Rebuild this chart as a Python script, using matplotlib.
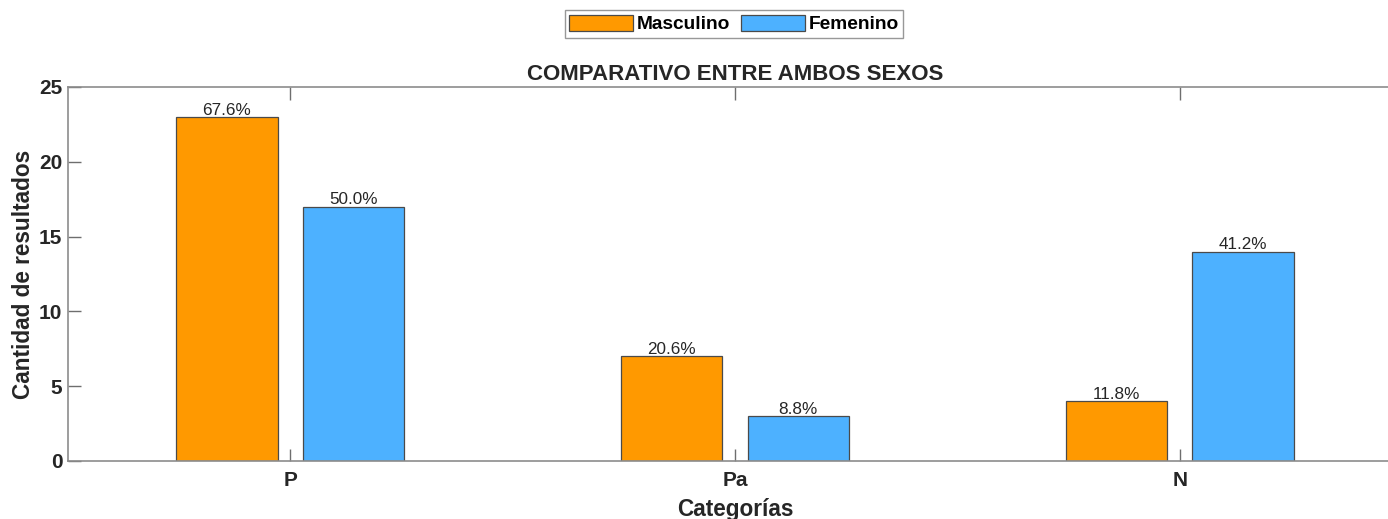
import matplotlib.pyplot as plt
import numpy as np

categories = ["P", "Pa", "N"]
masculino = [23, 7, 4]
femenino = [17, 3, 14]
pct_masculino = ["67.6%", "20.6%", "11.8%"]
pct_femenino = ["50.0%", "8.8%", "41.2%"]

plt.rcParams["font.family"] = ["Liberation Sans", "DejaVu Sans"]

fig = plt.figure(figsize=(13.88, 5.19), dpi=100)
ax = fig.add_axes([68 / 1388, 58 / 519, 1334 / 1388, 374 / 519])

x = np.arange(1, len(categories) + 1)
w = 0.228
off = 0.1425
b1 = ax.bar(x - off, masculino, w, color="#FF9900", edgecolor="#4a4a4a", linewidth=0.9, label="Masculino")
b2 = ax.bar(x + off, femenino, w, color="#4DB1FF", edgecolor="#4a4a4a", linewidth=0.9, label="Femenino")

for bars, labels in ((b1, pct_masculino), (b2, pct_femenino)):
    for rect, lab in zip(bars, labels):
        ax.text(rect.get_x() + rect.get_width() / 2, rect.get_height() - 0.05, lab,
                ha="center", va="bottom", fontsize=12.3, color="#262626")

ax.set_xlim(0.5, 3.5)
ax.set_ylim(0, 25)
ax.set_xticks(x)
ax.set_xticklabels(categories)
ax.set_yticks([0, 5, 10, 15, 20, 25])
for lab in ax.get_xticklabels() + ax.get_yticklabels():
    lab.set_fontweight("bold")
ax.tick_params(direction="in", length=9, width=1, color="#6e6e6e", labelsize=15,
               labelcolor="#262626", top=True, right=True)
ax.tick_params(axis="y", pad=4)
ax.tick_params(axis="x", pad=7)
for s in ax.spines.values():
    s.set_color("#8c8c8c")
    s.set_linewidth(1.2)

ax.set_xlabel("Categorías", fontsize=16.3, fontweight="bold", color="#262626", labelpad=6)
ax.set_ylabel("Cantidad de resultados", fontsize=16.3, fontweight="bold", color="#262626", labelpad=3)
ax.set_title("COMPARATIVO ENTRE AMBOS SEXOS", fontsize=16, fontweight="bold", color="#262626", pad=5)

fig.legend(handles=[b1, b2], loc="center", bbox_to_anchor=(734 / 1388, 1 - 24 / 519), ncol=2,
           frameon=True, fancybox=False, edgecolor="#7f7f7f",
           prop={"weight": "bold", "size": 13.8}, handlelength=3.3, handleheight=0.9,
           handletextpad=0.2, columnspacing=0.6, borderpad=0.25, borderaxespad=0)

fig.savefig("out.png", dpi=100)
